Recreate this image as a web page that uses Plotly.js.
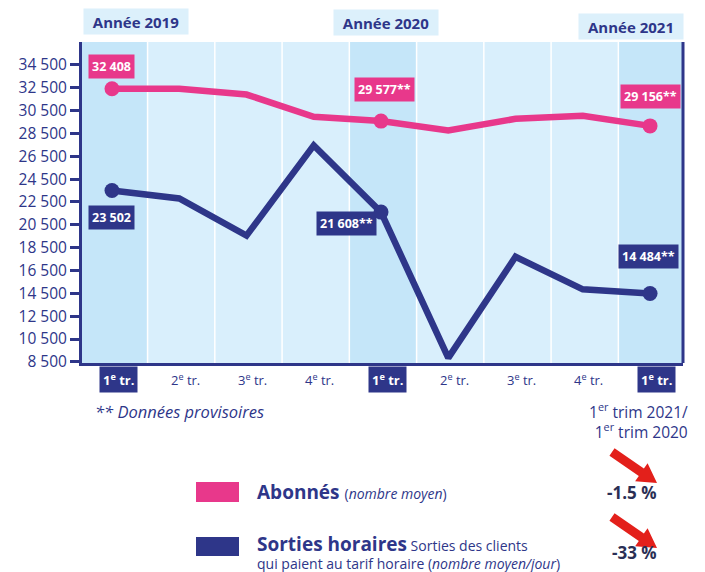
<!DOCTYPE html>
<html>
<head>
<meta charset="utf-8">
<script src="https://cdn.plot.ly/plotly-3.0.1.min.js"></script>
<style>html,body{margin:0;padding:0;background:#fff;}#chart{width:705px;height:572px;}</style>
</head>
<body>
<div id="chart"></div>
<script>
// ---- data ----
const quarterNums = ['1', '2', '3', '4', '1', '2', '3', '4', '1'];
const years = ['Année 2019', 'Année 2020', 'Année 2021'];
const abonnes = [32408, 32400, 31900, 29950, 29577, 28750, 29780, 30050, 29156];
const sorties = [23502, 22800, 19550, 27450, 21608, 8850, 17700, 14850, 14484];
const labelledIdx = [0, 4, 8];
const provisionalFrom = 4;
const yTicks = [8500, 10500, 12500, 14500, 16500, 18500, 20500, 22500, 24500, 26500, 28500, 30500, 32500, 34500];
const changes = ['-1.5 %', '-33 %'];
const seriesNames = ['Abonnés', 'Sorties horaires'];

// ---- styles ----
const NAVY = '#2e3689';
const PINK = '#e8388b';
const BAND_Q1 = '#c5e6f9';
const BAND = '#d9effc';
const RED = '#e3201b';
const FONT = 'Open Sans, Lato, sans-serif';

// plot area in px
const L = 82, T = 42, W = 601, H = 321;
const px = x => (x - L) / W;
const py = y => (T + H - y) / H;

const n = quarterNums.length;
const xs = quarterNums.map((_, i) => i);
const xRange = [-0.446, 8.49];

function fmt(v) {
  return String(v).replace(/\B(?=(\d{3})+(?!\d))/g, ' ');
}

const traces = [
  {x: xs, y: abonnes, mode: 'lines', line: {color: PINK, width: 6.5}, cliponaxis: false, hoverinfo: 'skip'},
  {x: xs, y: sorties, mode: 'lines', line: {color: NAVY, width: 6.5}, cliponaxis: false, hoverinfo: 'skip'},
  {x: labelledIdx, y: labelledIdx.map(i => abonnes[i]), mode: 'markers',
   marker: {size: 15, color: PINK, opacity: 1, line: {width: 0}}, cliponaxis: false, hoverinfo: 'skip'},
  {x: labelledIdx, y: labelledIdx.map(i => sorties[i]), mode: 'markers',
   marker: {size: 15, color: NAVY, opacity: 1, line: {width: 0}}, cliponaxis: false, hoverinfo: 'skip'}
];

const shapes = [];
// bands
for (let i = 0; i < n; i++) {
  const x0 = i === 0 ? xRange[0] : i - 0.46;
  const x1 = i === n - 1 ? xRange[1] : i + 0.54;
  shapes.push({type: 'rect', xref: 'x', yref: 'paper', x0: x0, x1: x1, y0: 0, y1: 1,
    fillcolor: quarterNums[i] === '1' ? BAND_Q1 : BAND, line: {width: 0}, layer: 'below'});
  if (i < n - 1) {
    shapes.push({type: 'line', xref: 'x', yref: 'paper', x0: x1, x1: x1, y0: 0, y1: 1,
      line: {color: '#ffffff', width: 3}, layer: 'below'});
  }
}
// right frame line
shapes.push({type: 'line', xref: 'paper', yref: 'paper', x0: 1, x1: 1, y0: 0, y1: 1,
  line: {color: NAVY, width: 3}});

// legend swatches
shapes.push({type: 'rect', xref: 'paper', yref: 'paper', x0: px(196), x1: px(239), y0: py(502), y1: py(482),
  fillcolor: PINK, line: {width: 0}});
shapes.push({type: 'rect', xref: 'paper', yref: 'paper', x0: px(196), x1: px(239), y0: py(556), y1: py(537),
  fillcolor: NAVY, line: {width: 0}});

// red arrows
function arrowPath(tx, ty, hx, hy) {
  const dx = hx - tx, dy = hy - ty, len = Math.hypot(dx, dy);
  const ux = dx / len, uy = dy / len, nx = -uy, ny = ux;
  const sw = 4.5, hw = 11, hl = 19;
  const bx = hx - ux * hl, by = hy - uy * hl;
  const pts = [
    [tx + nx * sw, ty + ny * sw], [bx + nx * sw, by + ny * sw], [bx + nx * hw, by + ny * hw],
    [hx, hy], [bx - nx * hw, by - ny * hw], [bx - nx * sw, by - ny * sw], [tx - nx * sw, ty - ny * sw]
  ];
  return 'M ' + pts.map(p => px(p[0]) + ',' + py(p[1])).join(' L ') + ' Z';
}
shapes.push({type: 'path', xref: 'paper', yref: 'paper', path: arrowPath(612, 452, 657, 483),
  fillcolor: RED, line: {width: 0}});
shapes.push({type: 'path', xref: 'paper', yref: 'paper', path: arrowPath(612, 517, 657, 548),
  fillcolor: RED, line: {width: 0}});

const annotations = [];
// year boxes
const yearPos = [[136, 21.5], [385.5, 22.5], [631, 26.5]];
years.forEach((t, k) => {
  annotations.push({xref: 'paper', yref: 'paper', x: px(yearPos[k][0]), y: py(yearPos[k][1]),
    text: '<b>' + t + '</b>', showarrow: false, xanchor: 'center', yanchor: 'middle',
    font: {family: FONT, size: 15, color: NAVY}, bgcolor: '#dcf0fb', width: 98, height: 19, borderpad: 3});
});

// x labels
xs.forEach(i => {
  const first = quarterNums[i] === '1';
  annotations.push({xref: 'x', yref: 'paper', x: i, y: py(380), xshift: 6,
    text: first ? '<b>' + quarterNums[i] + '<sup>e</sup> tr.</b>' : quarterNums[i] + '<sup>e</sup> tr.',
    showarrow: false, xanchor: 'center', yanchor: 'middle',
    font: {family: FONT, size: 13, color: first ? '#ffffff' : NAVY},
    bgcolor: first ? NAVY : 'rgba(0,0,0,0)', borderpad: first ? 3 : 0});
});

// value labels
const pinkOffsets = {0: [-1, 22], 4: [3, 32], 8: [0, 29]};
const navyOffsets = {0: [-1, -27], 4: [-35, -11], 8: [-2, 37]};
labelledIdx.forEach(i => {
  const star = i >= provisionalFrom ? '**' : '';
  annotations.push({xref: 'x', yref: 'y', x: i, y: abonnes[i], xshift: pinkOffsets[i][0], yshift: pinkOffsets[i][1],
    text: '<b>' + fmt(abonnes[i]) + star + '</b>', showarrow: false, xanchor: 'center', yanchor: 'middle',
    font: {family: FONT, size: 12.5, color: '#ffffff'}, bgcolor: PINK, borderpad: 3});
  annotations.push({xref: 'x', yref: 'y', x: i, y: sorties[i], xshift: navyOffsets[i][0], yshift: navyOffsets[i][1],
    text: '<b>' + fmt(sorties[i]) + star + '</b>', showarrow: false, xanchor: 'center', yanchor: 'middle',
    font: {family: FONT, size: 12.5, color: '#ffffff'}, bgcolor: NAVY, borderpad: 3});
});

// footnote and comparison header
annotations.push({xref: 'paper', yref: 'paper', x: px(93), y: py(411), xanchor: 'left', yanchor: 'middle',
  text: '<i>** Données provisoires</i>', showarrow: false, font: {family: FONT, size: 16.5, color: NAVY}});
annotations.push({xref: 'paper', yref: 'paper', x: px(690), y: py(421), xanchor: 'right', yanchor: 'middle', align: 'right',
  text: '1<sup>er</sup> trim 2021/<br>1<sup>er</sup> trim 2020', showarrow: false, font: {family: FONT, size: 15.5, color: NAVY}});

// legend text
annotations.push({xref: 'paper', yref: 'paper', x: px(255), y: py(492), xanchor: 'left', yanchor: 'middle',
  text: '<b>' + seriesNames[0] + '</b> <span style="font-size:14px">(<i>nombre moyen</i>)</span>',
  showarrow: false, font: {family: FONT, size: 19, color: NAVY}});
annotations.push({xref: 'paper', yref: 'paper', x: px(255), y: py(552), xanchor: 'left', yanchor: 'middle', align: 'left',
  text: '<span style="font-size:19px"><b>' + seriesNames[1] + '</b></span> Sorties des clients<br>qui paient au tarif horaire (<i>nombre moyen/jour</i>)',
  showarrow: false, font: {family: FONT, size: 14, color: NAVY}});
// changes
annotations.push({xref: 'paper', yref: 'paper', x: px(632), y: py(492), xanchor: 'center', yanchor: 'middle',
  text: '<b>' + changes[0] + '</b>', showarrow: false, font: {family: FONT, size: 17, color: '#2a2f55'}});
annotations.push({xref: 'paper', yref: 'paper', x: px(634), y: py(552), xanchor: 'center', yanchor: 'middle',
  text: '<b>' + changes[1] + '</b>', showarrow: false, font: {family: FONT, size: 17, color: '#2a2f55'}});

const layout = {
  width: 705, height: 572,
  margin: {l: L, r: 705 - L - W, t: T, b: 572 - T - H},
  paper_bgcolor: '#ffffff', plot_bgcolor: '#ffffff',
  showlegend: false,
  separators: ', ',
  font: {family: FONT, color: NAVY},
  xaxis: {range: xRange, showticklabels: false, showgrid: false, zeroline: false,
    showline: true, linecolor: NAVY, linewidth: 3, ticks: '', fixedrange: true},
  yaxis: {range: [8400, 36500], tickvals: yTicks, tickformat: ',d', showgrid: false, zeroline: false,
    showline: true, linecolor: NAVY, linewidth: 3, ticks: 'outside', ticklen: 9, tickwidth: 3, tickcolor: NAVY,
    tickfont: {family: FONT, size: 15.5, color: NAVY}, fixedrange: true},
  shapes: shapes,
  annotations: annotations
};

Plotly.newPlot('chart', traces, layout, {staticPlot: true, displayModeBar: false});
</script>
</body>
</html>
